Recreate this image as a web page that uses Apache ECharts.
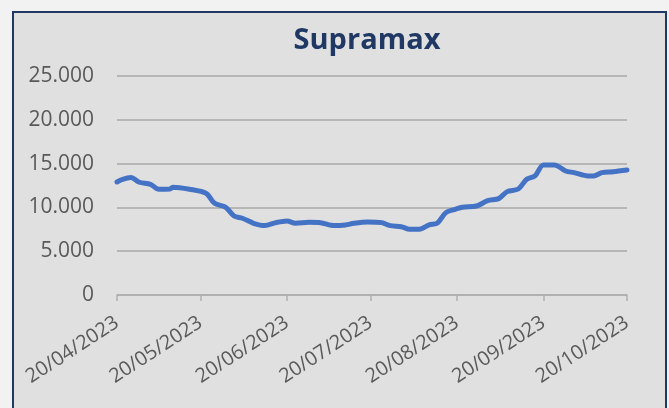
<!DOCTYPE html>
<html>
<head>
<meta charset="utf-8">
<script src="https://cdn.jsdelivr.net/npm/echarts@6/dist/echarts.min.js"></script>
<style>
  html, body { margin: 0; padding: 0; background: #f2f2f2; overflow: hidden; }
  #frame { position: absolute; left: 12px; top: 11px; width: 651px; height: 420px;
           border: 2px solid #1f3864; background: #e0e0e0; }
  #container { position: absolute; left: 0; top: 0; width: 669px; height: 408px; }
</style>
</head>
<body>
<div id="frame"></div>
<div id="container"></div>
<script>
// Supramax index
var dates = [
  '2023-04-20','2023-04-22','2023-04-25','2023-04-28','2023-05-02','2023-05-05',
  '2023-05-09','2023-05-10','2023-05-16','2023-05-22','2023-05-25','2023-05-29',
  '2023-06-01','2023-06-04','2023-06-08','2023-06-12','2023-06-16','2023-06-20',
  '2023-06-23','2023-06-28','2023-07-02','2023-07-07','2023-07-11','2023-07-14',
  '2023-07-19','2023-07-24','2023-07-27','2023-07-31','2023-08-03','2023-08-07',
  '2023-08-10','2023-08-13','2023-08-16','2023-08-19','2023-08-22','2023-08-27',
  '2023-08-31','2023-09-04','2023-09-07','2023-09-11','2023-09-14','2023-09-17',
  '2023-09-20','2023-09-24','2023-09-28','2023-10-01','2023-10-06','2023-10-08',
  '2023-10-11','2023-10-15','2023-10-20'
];
var values = [
  12900, 13200, 13400, 12870, 12640, 12070,
  12100, 12300, 12070, 11600, 10470, 10010,
  9020, 8760, 8190, 7920, 8260, 8450,
  8190, 8300, 8260, 7920, 8000, 8190,
  8340, 8260, 7920, 7800, 7500, 7540,
  8000, 8220, 9400, 9750, 10010, 10160,
  10770, 11000, 11800, 12100, 13210, 13590,
  14850, 14850, 14160, 13970, 13590, 13590,
  13970, 14080, 14270
];
var tickDates = ['2023-04-20','2023-05-20','2023-06-20','2023-07-20','2023-08-20','2023-09-20','2023-10-20'];

var chartTitle = 'Supramax';
var font = '"Open Sans", "Liberation Sans", sans-serif';

// x axis runs in days since the first date
var DAY = 86400000;
var t0 = Date.UTC(2023, 3, 20);
function toDay(s){
	var p = s.split('-');
	return Math.round((Date.UTC(+p[0], +p[1] - 1, +p[2]) - t0) / DAY);
}
function pad(n){ return n < 10 ? '0' + n : '' + n; }
function fmtDate(v){
	var d = new Date(t0 + Math.round(v) * DAY);
	return pad(d.getUTCDate()) + '/' + pad(d.getUTCMonth() + 1) + '/' + d.getUTCFullYear();
}
function fmtNum(v){
	return String(v).replace(/\B(?=(\d{3})+(?!\d))/g, '.');
}

var tickDays = tickDates.map(toDay);
var seriesData = dates.map(function(s, i){ return [toDay(s), values[i]]; });

var chart = echarts.init(document.getElementById('container'));
var option = {
	backgroundColor: 'transparent',
	animation: false,
	title: {
		text: chartTitle,
		left: 362,
		top: 21,
		textAlign: 'center',
		textStyle: { fontFamily: font, fontWeight: 'bold', fontSize: 29, color: '#1f3864' }
	},
	grid: { left: 117, right: 42, top: 76, bottom: 113, containLabel: false },
	xAxis: {
		type: 'value',
		min: tickDays[0],
		max: tickDays[tickDays.length - 1],
		axisLine: { show: true, lineStyle: { color: '#b0b0b0', width: 1.5 } },
		axisTick: { show: true, length: 6, customValues: tickDays, lineStyle: { color: '#b0b0b0', width: 1.5 } },
		axisLabel: {
			customValues: tickDays,
			rotate: 33,
			margin: 26,
			formatter: fmtDate,
			fontFamily: font,
			fontSize: 20,
			color: '#595959'
		},
		splitLine: { show: false }
	},
	yAxis: {
		type: 'value',
		min: 0,
		max: 25000,
		interval: 5000,
		axisLine: { show: false },
		axisTick: { show: false },
		axisLabel: { formatter: fmtNum, margin: 23, fontFamily: font, fontSize: 21, color: '#595959' },
		splitLine: { lineStyle: { color: '#a8a8a8', width: 1.5 } }
	},
	series: [{
		type: 'line',
		data: seriesData,
		smooth: 0.3,
		showSymbol: false,
		lineStyle: { color: '#4472c4', width: 5, cap: 'round', join: 'round' }
	}]
};
chart.setOption(option);
window.addEventListener('resize', function(){ chart.resize(); });
</script>
</body>
</html>
